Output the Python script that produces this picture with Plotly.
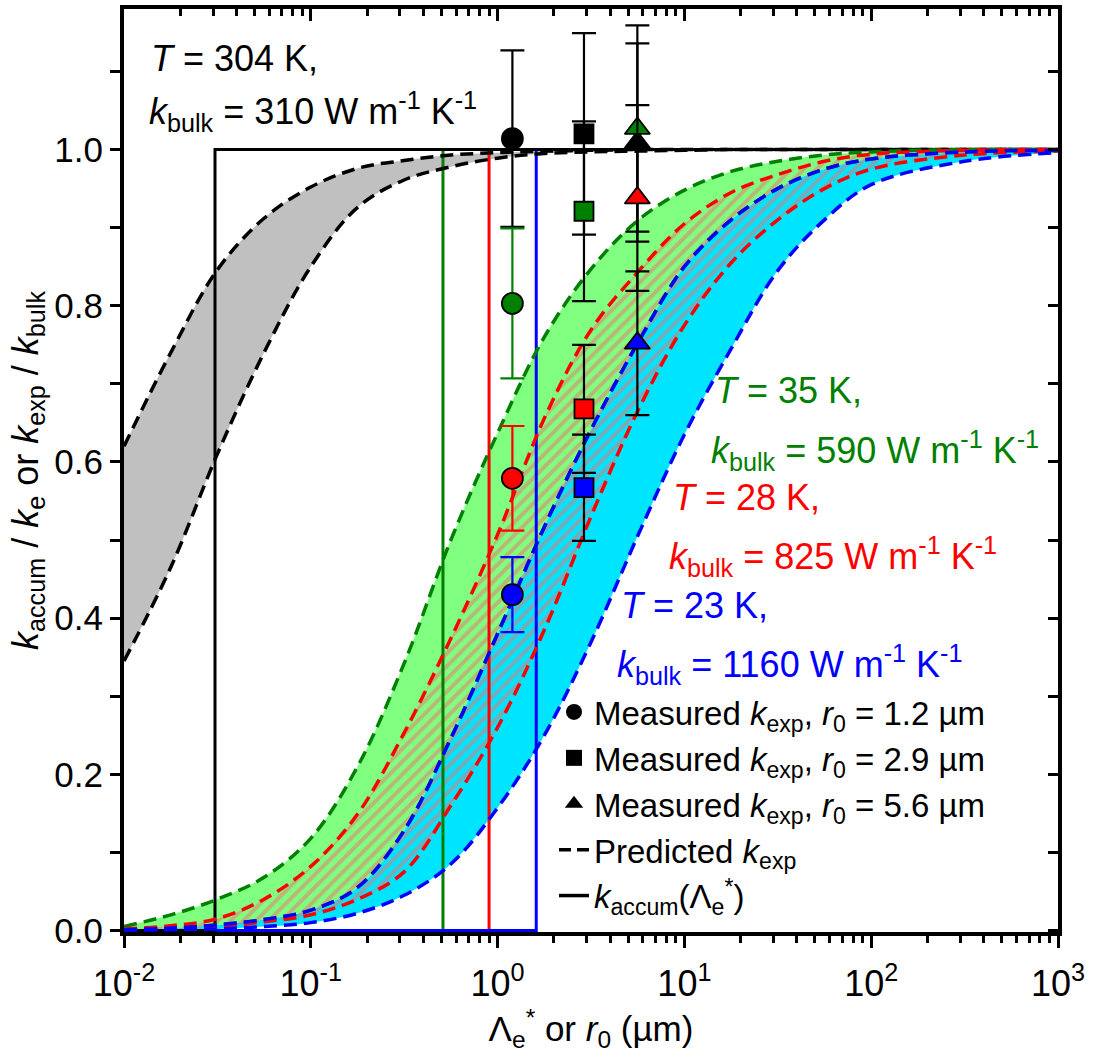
import plotly.graph_objects as go

# ---------------- data ----------------
# sample positions (um) for the predicted curves
r_grid = [0.01, 0.0178, 0.0316, 0.0562, 0.1, 0.178, 0.316, 0.562, 1.0, 1.78,
          3.16, 5.62, 10.0, 17.8, 31.6, 56.2, 100.0, 316.0, 1000.0]

# predicted k_exp / k_bulk bands (upper, lower) for each temperature
gray_hi = [0.62, 0.74, 0.846, 0.912, 0.952, 0.976, 0.986, 0.993, 0.996, 0.998,
           0.999, 1.0, 1.0, 1.0, 1.0, 1.0, 1.0, 1.0, 1.0]
gray_lo = [0.345, 0.465, 0.61, 0.74, 0.85, 0.926, 0.961, 0.978, 0.989, 0.995,
           0.997, 0.998, 0.999, 1.0, 1.0, 1.0, 1.0, 1.0, 1.0]
green_hi = [0.005, 0.02, 0.040, 0.068, 0.118, 0.21, 0.342, 0.50, 0.637, 0.76,
            0.847, 0.909, 0.948, 0.972, 0.985, 0.993, 0.997, 1.0, 1.0]
green_lo = [0.001, 0.003, 0.007, 0.014, 0.026, 0.055, 0.128, 0.246, 0.38, 0.517,
            0.641, 0.752, 0.85, 0.91, 0.95, 0.975, 0.988, 0.997, 0.999]
red_hi = [0.002, 0.006, 0.015, 0.040, 0.082, 0.149, 0.253, 0.374, 0.507, 0.656,
          0.769, 0.843, 0.905, 0.945, 0.968, 0.985, 0.994, 0.999, 1.0]
red_lo = [0.001, 0.002, 0.005, 0.011, 0.02, 0.04, 0.075, 0.16, 0.26, 0.385,
          0.53, 0.665, 0.775, 0.855, 0.91, 0.95, 0.975, 0.993, 0.998]
blue_hi = [0.001, 0.003, 0.007, 0.014, 0.026, 0.055, 0.128, 0.246, 0.38, 0.517,
           0.641, 0.752, 0.85, 0.91, 0.95, 0.975, 0.988, 0.997, 0.999]
blue_lo = [0.0003, 0.001, 0.002, 0.005, 0.01, 0.022, 0.045, 0.085, 0.157, 0.25,
           0.369, 0.505, 0.635, 0.745, 0.845, 0.91, 0.955, 0.985, 0.996]

# accumulation step position Lambda_e* (um) for each temperature
series = ["304 K", "35 K", "28 K", "23 K"]
lambda_star = [0.0307, 0.51, 0.90, 1.61]
colors = ["black", "green", "red", "blue"]

# measured k_exp / k_bulk at three beam radii
r0 = [1.2, 2.9, 5.6]
k_circle = [1.014, 0.803, 0.579, 0.430]
e_circle = [0.113, 0.096, 0.067, 0.048]
k_square = [1.020, 0.921, 0.668, 0.567]
e_square = [0.129, 0.115, 0.082, 0.068]
k_triangle = [1.009, 1.027, 0.938, 0.752]
e_triangle = [0.127, 0.132, 0.119, 0.092]

x_range = [0.01, 1000.0]
x_ticks = [0.01, 0.1, 1, 10, 100, 1000]
x_tick_labels = ["10<sup>-2</sup>", "10<sup>-1</sup>", "10<sup>0</sup>",
                 "10<sup>1</sup>", "10<sup>2</sup>", "10<sup>3</sup>"]
y_ticks = [0.0, 0.2, 0.4, 0.6, 0.8, 1.0]
y_tick_labels = ["0.0", "0.2", "0.4", "0.6", "0.8", "1.0"]
y_minor = [0.1, 0.3, 0.5, 0.7, 0.9, 1.1]

FONT = "Liberation Sans, Arial, Helvetica, sans-serif"
FS = 35
DASH = "13px,7px"

fig = go.Figure()

# ---------------- shaded bands ----------------
def band(lo, hi, **fill):
    fig.add_trace(go.Scatter(x=r_grid, y=lo, mode="lines", line=dict(width=0, shape="spline"),
                             showlegend=False, hoverinfo="skip"))
    fig.add_trace(go.Scatter(x=r_grid, y=hi, mode="lines", line=dict(width=0, shape="spline"),
                             fill="tonexty", showlegend=False, hoverinfo="skip", **fill))

band(gray_lo, gray_hi, fillcolor="#C0C0C0")
band(green_lo, green_hi, fillcolor="#80FF80")
band(blue_lo, blue_hi, fillcolor="#00E5FF")
band(red_lo, red_hi, fillcolor="rgba(0,0,0,0)",
     fillpattern=dict(shape="/", fgcolor="#F07070", bgcolor="rgba(0,0,0,0)",
                      size=9, solidity=0.45))

# ---------------- k_accum step lines ----------------
for lam, c in zip(lambda_star[1:] + lambda_star[:1], colors[1:] + colors[:1]):
    fig.add_trace(go.Scatter(x=[x_range[0], lam, lam, x_range[1]], y=[0, 0, 1, 1],
                             mode="lines", line=dict(color=c, width=3),
                             showlegend=False, hoverinfo="skip"))

# ---------------- predicted dashed curves ----------------
for curve, c in [(gray_hi, "black"), (gray_lo, "black"),
                 (green_hi, "green"), (green_lo, "green"),
                 (red_hi, "red"), (red_lo, "red"),
                 (blue_hi, "blue"), (blue_lo, "blue")]:
    fig.add_trace(go.Scatter(x=r_grid, y=curve, mode="lines",
                             line=dict(color=c, width=3.5, dash=DASH, shape="spline"),
                             showlegend=False, hoverinfo="skip"))

# ---------------- measured points ----------------
for i, c in enumerate(colors):
    for xv, vals, errs, sym, size, ecol in [
            (r0[0], k_circle, e_circle, "circle", 21, c),
            (r0[1], k_square, e_square, "square", 19, "black"),
            (r0[2], k_triangle, e_triangle, "triangle-up", 22, "black")]:
        fig.add_trace(go.Scatter(
            x=[xv], y=[vals[i]], mode="markers",
            marker=dict(symbol=sym, size=size, color=c, line=dict(color="black", width=1.8)),
            error_y=dict(type="data", array=[errs[i]], color=ecol, thickness=2.2, width=12),
            showlegend=False, hoverinfo="skip"))

# ---------------- legend entries ----------------
legend_items = [
    ("markers", "circle", "Measured <i>k</i><sub>exp</sub>, <i>r</i><sub>0</sub> = 1.2 µm"),
    ("markers", "square", "Measured <i>k</i><sub>exp</sub>, <i>r</i><sub>0</sub> = 2.9 µm"),
    ("markers", "triangle-up", "Measured <i>k</i><sub>exp</sub>, <i>r</i><sub>0</sub> = 5.6 µm"),
    ("dash", None, "Predicted <i>k</i><sub>exp</sub>"),
    ("solid", None, "<i>k</i><sub>accum</sub>(Λ<sub>e</sub><sup>*</sup>)"),
]
for kind, sym, label in legend_items:
    if kind == "markers":
        fig.add_trace(go.Scatter(x=[None], y=[None], mode="markers", name=label,
                                 marker=dict(symbol=sym, size=16, color="black")))
    else:
        fig.add_trace(go.Scatter(x=[None], y=[None], mode="lines", name=label,
                                 line=dict(color="black", width=3.5,
                                           dash="12px,6px" if kind == "dash" else "solid")))

# holder for the top / right frame axes
fig.add_trace(go.Scatter(x=[None], y=[None], xaxis="x2", yaxis="y2",
                         showlegend=False, hoverinfo="skip"))

# ---------------- annotations ----------------
def label(text, px, py, color):
    fig.add_annotation(text=text, xref="paper", yref="paper",
                       x=(px - 124) / 934, y=(932 - py) / 923,
                       xanchor="left", yanchor="middle", showarrow=False,
                       font=dict(family=FONT, size=FS + 1, color=color))

bulk = "<i>k</i><sub>bulk</sub> = {} W m<sup>-1</sup> K<sup>-1</sup>"
label("<i>T</i> = 304 K,", 149, 58, "black")
label(bulk.format(310), 147, 112, "black")
label("<i>T</i> = 35 K,", 713, 390, "green")
label(bulk.format(590), 709, 450, "green")
label("<i>T</i> = 28 K,", 671, 497, "red")
label(bulk.format(825), 667, 556, "red")
label("<i>T</i> = 23 K,", 619, 605, "blue")
label(bulk.format(1160), 615, 664, "blue")

# ---------------- axes ----------------
minor_x = [m * 10 ** e for e in range(-2, 3) for m in range(2, 10)]
axis_common = dict(showgrid=False, zeroline=False, showline=True, linecolor="black",
                   linewidth=4, tickcolor="black")

fig.update_layout(
    width=1093, height=1059, autosize=False,
    margin=dict(l=124, r=35, t=9, b=127),
    paper_bgcolor="white", plot_bgcolor="white",
    font=dict(family=FONT, size=FS, color="black"),
    xaxis=dict(type="log", range=[-2, 3], tickmode="array", tickvals=x_ticks,
               ticktext=x_tick_labels, ticks="outside", ticklen=12, tickwidth=3,
               ticklabelstandoff=5,
               minor=dict(tickmode="array", tickvals=minor_x, ticks="outside",
                          ticklen=7, tickwidth=2.5, tickcolor="black"),
               layer="below traces",
               title=dict(text="Λ<sub>e</sub><sup>*</sup> or <i>r</i><sub>0</sub> (µm)",
                          font=dict(size=FS), standoff=12),
               tickfont=dict(size=FS + 1), **axis_common),
    xaxis2=dict(type="log", range=[-2, 3], overlaying="x", side="top",
                tickmode="array", tickvals=x_ticks, showticklabels=False,
                ticks="inside", ticklen=12, tickwidth=3,
                minor=dict(tickmode="array", tickvals=minor_x, ticks="inside",
                           ticklen=7, tickwidth=2.5, tickcolor="black"),
                **axis_common),
    yaxis=dict(range=[-0.002, 1.18], tickmode="array", tickvals=y_ticks,
               ticktext=y_tick_labels, ticks="outside", ticklen=10, tickwidth=3,
               minor=dict(tickmode="array", tickvals=y_minor, ticks="outside",
                          ticklen=10, tickwidth=3, tickcolor="black"),
               title=dict(text="<i>k</i><sub>accum</sub> / <i>k</i><sub>e</sub> or "
                               "<i>k</i><sub>exp</sub> / <i>k</i><sub>bulk</sub>",
                          font=dict(size=FS + 1), standoff=6),
               tickfont=dict(size=FS), **axis_common),
    yaxis2=dict(range=[-0.002, 1.18], overlaying="y", side="right",
                tickmode="array", tickvals=y_ticks, showticklabels=False,
                ticks="inside", ticklen=10, tickwidth=3,
                minor=dict(tickmode="array", tickvals=y_minor, ticks="inside",
                           ticklen=10, tickwidth=3, tickcolor="black"),
                **axis_common),
    legend=dict(x=(554 - 124) / 934, y=(932 - 684) / 923, xanchor="left", yanchor="top",
                bgcolor="rgba(0,0,0,0)", font=dict(size=33), tracegroupgap=0,
                traceorder="normal", itemwidth=30),
    showlegend=True,
)

fig.write_html("out.html")
